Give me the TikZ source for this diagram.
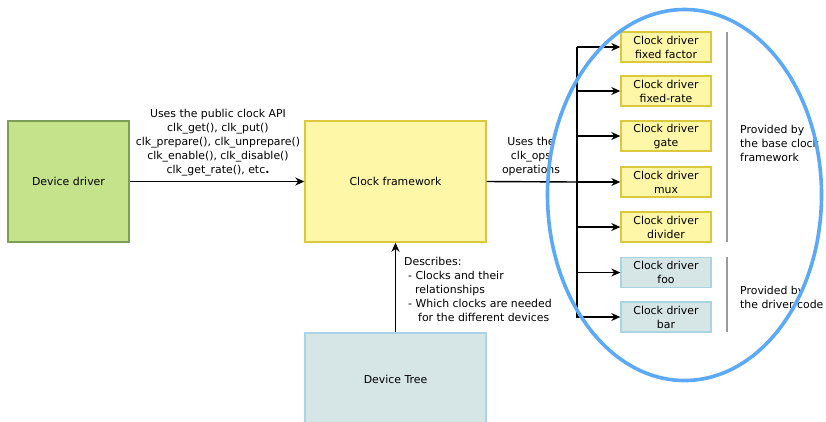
\documentclass[tikz,border=0pt]{standalone}
\usepackage{fontspec}
\setmainfont{DejaVu Sans}
\usetikzlibrary{arrows.meta}
\definecolor{grfill}{HTML}{C5E38B}
\definecolor{grline}{HTML}{7E9E55}
\definecolor{yefill}{HTML}{FFF7A8}
\definecolor{yeline}{HTML}{DCC83C}
\definecolor{bgfill}{HTML}{D6E5E5}
\definecolor{bgline}{HTML}{A9D5E2}
\definecolor{ellblue}{HTML}{5CA9F7}
\definecolor{sepgray}{HTML}{9A9A9A}
\tikzset{
  txt/.style={font=\fontsize{10.9}{14}\selectfont, inner sep=0pt},
  bigbox/.style={draw, line width=1.4pt, minimum width=181pt, minimum height=121pt, inner sep=0pt, font=\fontsize{10.9}{14}\selectfont},
  drvbox/.style={draw, line width=1.4pt, minimum width=90pt, minimum height=30pt, inner sep=0pt, align=center, font=\fontsize{10.9}{14}\selectfont},
  yebox/.style={drvbox, fill=yefill, draw=yeline},
  bgbox/.style={drvbox, fill=bgfill, draw=bgline},
  arr/.style={-{Stealth[length=9pt,width=8pt]}, line width=1.4pt},
  ln/.style={line width=1.4pt},
  sep/.style={draw=sepgray, line width=1.4pt}
}
\begin{document}
\begin{tikzpicture}[x=1pt,y=-1pt]
\useasboundingbox (0,0) rectangle (826,421);
% main boxes
\node[bigbox, fill=grfill, draw=grline, minimum width=121pt] (dd) at (68.5,181.5) {Device driver};
\node[bigbox, fill=yefill, draw=yeline] (cf) at (395.5,181.5) {Clock framework};
\node[bigbox, fill=bgfill, draw=bgline, minimum height=92pt] (dt) at (395.5,379) {Device Tree};
% driver boxes
\node[yebox] (b1) at (666,47) {Clock driver\\fixed factor};
\node[yebox] (b2) at (666,91) {Clock driver\\fixed-rate};
\node[yebox] (b3) at (666,136) {Clock driver\\gate};
\node[yebox] (b4) at (666,182) {Clock driver\\mux};
\node[yebox] (b5) at (666,227) {Clock driver\\divider};
\node[bgbox] (b6) at (666,272.5) {Clock driver\\foo};
\node[bgbox] (b7) at (666,317) {Clock driver\\bar};
% connectors
\draw[arr] (dd.east) -- (cf.west);
\draw[arr] (dt.north) -- (cf.south);
\coordinate (bt) at (577,47);
\coordinate (bm) at (577,182);
\coordinate (bb) at (577,318);
\draw[ln] (cf.east) -- (bm);
\draw[ln] (bt) -- (bb);
\foreach \b in {b1,b2,b3,b4,b5,b6,b7}{
  \draw[arr] (\b.west -| bm) -- (\b.west);
}
% labels
\node[txt, align=center] (api) at (218,143) {Uses the public clock API\\clk\_get(), clk\_put()\\clk\_prepare(), clk\_unprepare()\\clk\_enable(), clk\_disable()\\clk\_get\_rate(), etc\textbf{.}};
\node[txt, align=center] (ops) at (531,156) {Uses the\\clk\_ops\\operations};
\node[txt, align=left, anchor=west] (desc) at (404,289) {Describes:\\\hspace*{4pt}- Clocks and their\\\hspace*{11pt}relationships\\\hspace*{4pt}- Which clocks are needed\\\hspace*{14pt}for the different devices};
% separators
\coordinate (s1t) at (727,32); \coordinate (s1b) at (727,242);
\coordinate (s2t) at (727,257); \coordinate (s2b) at (727,332);
\draw[sep] (s1t) -- (s1b);
\draw[sep] (s2t) -- (s2b);
\node[txt, align=left, anchor=west] (p1) at (740,143) {Provided by\\the base clock\\framework};
\node[txt, align=left, anchor=west] (p2) at (740,297.5) {Provided by\\the driver code};
% ellipse
\draw[ellblue, line width=3.6pt] (684.5,195) ellipse [x radius=137, y radius=185.5];
\end{tikzpicture}
\end{document}
